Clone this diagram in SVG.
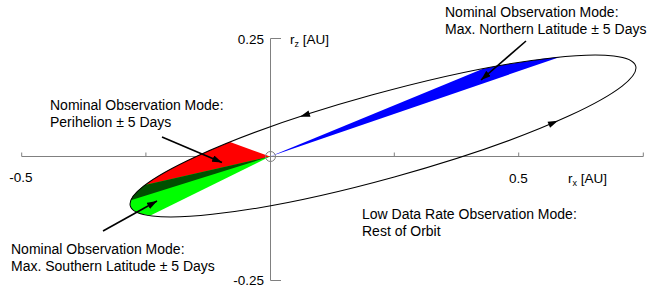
<svg xmlns="http://www.w3.org/2000/svg" width="664" height="287" viewBox="0 0 664 287">
<defs>
<style>
.lbl{font-family:"Liberation Sans",Arial,sans-serif;font-size:14px;fill:#000}
.ax{font-family:"Liberation Sans",Arial,sans-serif;font-size:13.5px;fill:#000}
.sub{font-size:9px}
.axis{stroke:#808080;stroke-width:1;fill:none}
.ann{stroke:#000;stroke-width:1.6;fill:none}
</style>
<marker id="ah" viewBox="0 0 10 7" refX="10" refY="3.5" markerWidth="10" markerHeight="7" markerUnits="userSpaceOnUse" orient="auto">
<path d="M0,0 L10,3.5 L0,7 Z" fill="#000"/>
</marker>
</defs>
<rect width="664" height="287" fill="#fff"/>
<g id="axes">
<line class="axis" x1="21.7" y1="156.5" x2="643.3" y2="156.5"/>
<path class="axis" d="M21.7,152.5V156.5M145.9,152.5V156.5M394.3,152.5V156.5M518.7,152.5V156.5M643.3,152.5V156.5"/>
<path class="axis" d="M281,38.5H270.5V280.5H281"/>
<text class="ax" x="264" y="44" text-anchor="end">0.25</text>
<text class="ax" x="264" y="285" text-anchor="end">-0.25</text>
<text class="ax" x="21" y="182" text-anchor="middle">-0.5</text>
<text class="ax" x="518.5" y="183" text-anchor="middle">0.5</text>
<text class="ax" x="290" y="44">r<tspan class="sub" dy="3">z</tspan><tspan dy="-3"> [AU]</tspan></text>
<text class="ax" x="568" y="183">r<tspan class="sub" dy="3">x</tspan><tspan dy="-3"> [AU]</tspan></text>
</g>
<g id="regions">
<path id="perihelion" d="M270,156.5 L230,142 A262.2,42.5 -15.45 0 0 130.8,200.3 Z" fill="#ff0000"/>
<path id="southern" d="M270,156.5 L145,185 A262.2,42.5 -15.45 0 0 149.9,215.7 Z" fill="#00ff00"/>
<path id="overlap" d="M270,156.5 L145,185 A262.2,42.5 -15.45 0 0 130.8,200.3 Z" fill="#004f00"/>
<path id="northern" d="M270,156.5 L483,68.7 A262.2,42.5 -15.45 0 1 560,57 Z" fill="#0000ff"/>
</g>
<g id="orbit">
<ellipse cx="383" cy="136" rx="262.2" ry="42.5" transform="rotate(-15.45 383 136)" fill="none" stroke="#000" stroke-width="1"/>
<polygon points="0,0 -10,-3.2 -10,3.2" fill="#000" transform="translate(300,116.7) rotate(162)"/>
<polygon points="0,0 -10,-3.2 -10,3.2" fill="#000" transform="translate(558,120.8) rotate(-23.1)"/>
</g>
<g id="sun">
<circle cx="270.5" cy="156.5" r="5" fill="none" stroke="#808080" stroke-width="1"/>
</g>
<g id="label-perihelion">
<text class="lbl" x="50" y="110">Nominal Observation Mode:</text>
<text class="lbl" x="50" y="127">Perihelion ± 5 Days</text>
</g>
<g id="label-northern">
<text class="lbl" x="445" y="17">Nominal Observation Mode:</text>
<text class="lbl" x="445" y="34">Max. Northern Latitude ± 5 Days</text>
</g>
<g id="label-southern">
<text class="lbl" x="11" y="254">Nominal Observation Mode:</text>
<text class="lbl" x="11" y="271">Max. Southern Latitude ± 5 Days</text>
</g>
<g id="label-lowrate">
<text class="lbl" x="362" y="219">Low Data Rate Observation Mode:</text>
<text class="lbl" x="362" y="236">Rest of Orbit</text>
</g>
<g id="connectors">
<line class="ann" x1="162" y1="137" x2="222" y2="162.5" marker-end="url(#ah)"/>
<line class="ann" x1="103" y1="231" x2="157" y2="201" marker-end="url(#ah)"/>
<line class="ann" x1="526" y1="41" x2="481" y2="80" marker-end="url(#ah)"/>
</g>
</svg>
